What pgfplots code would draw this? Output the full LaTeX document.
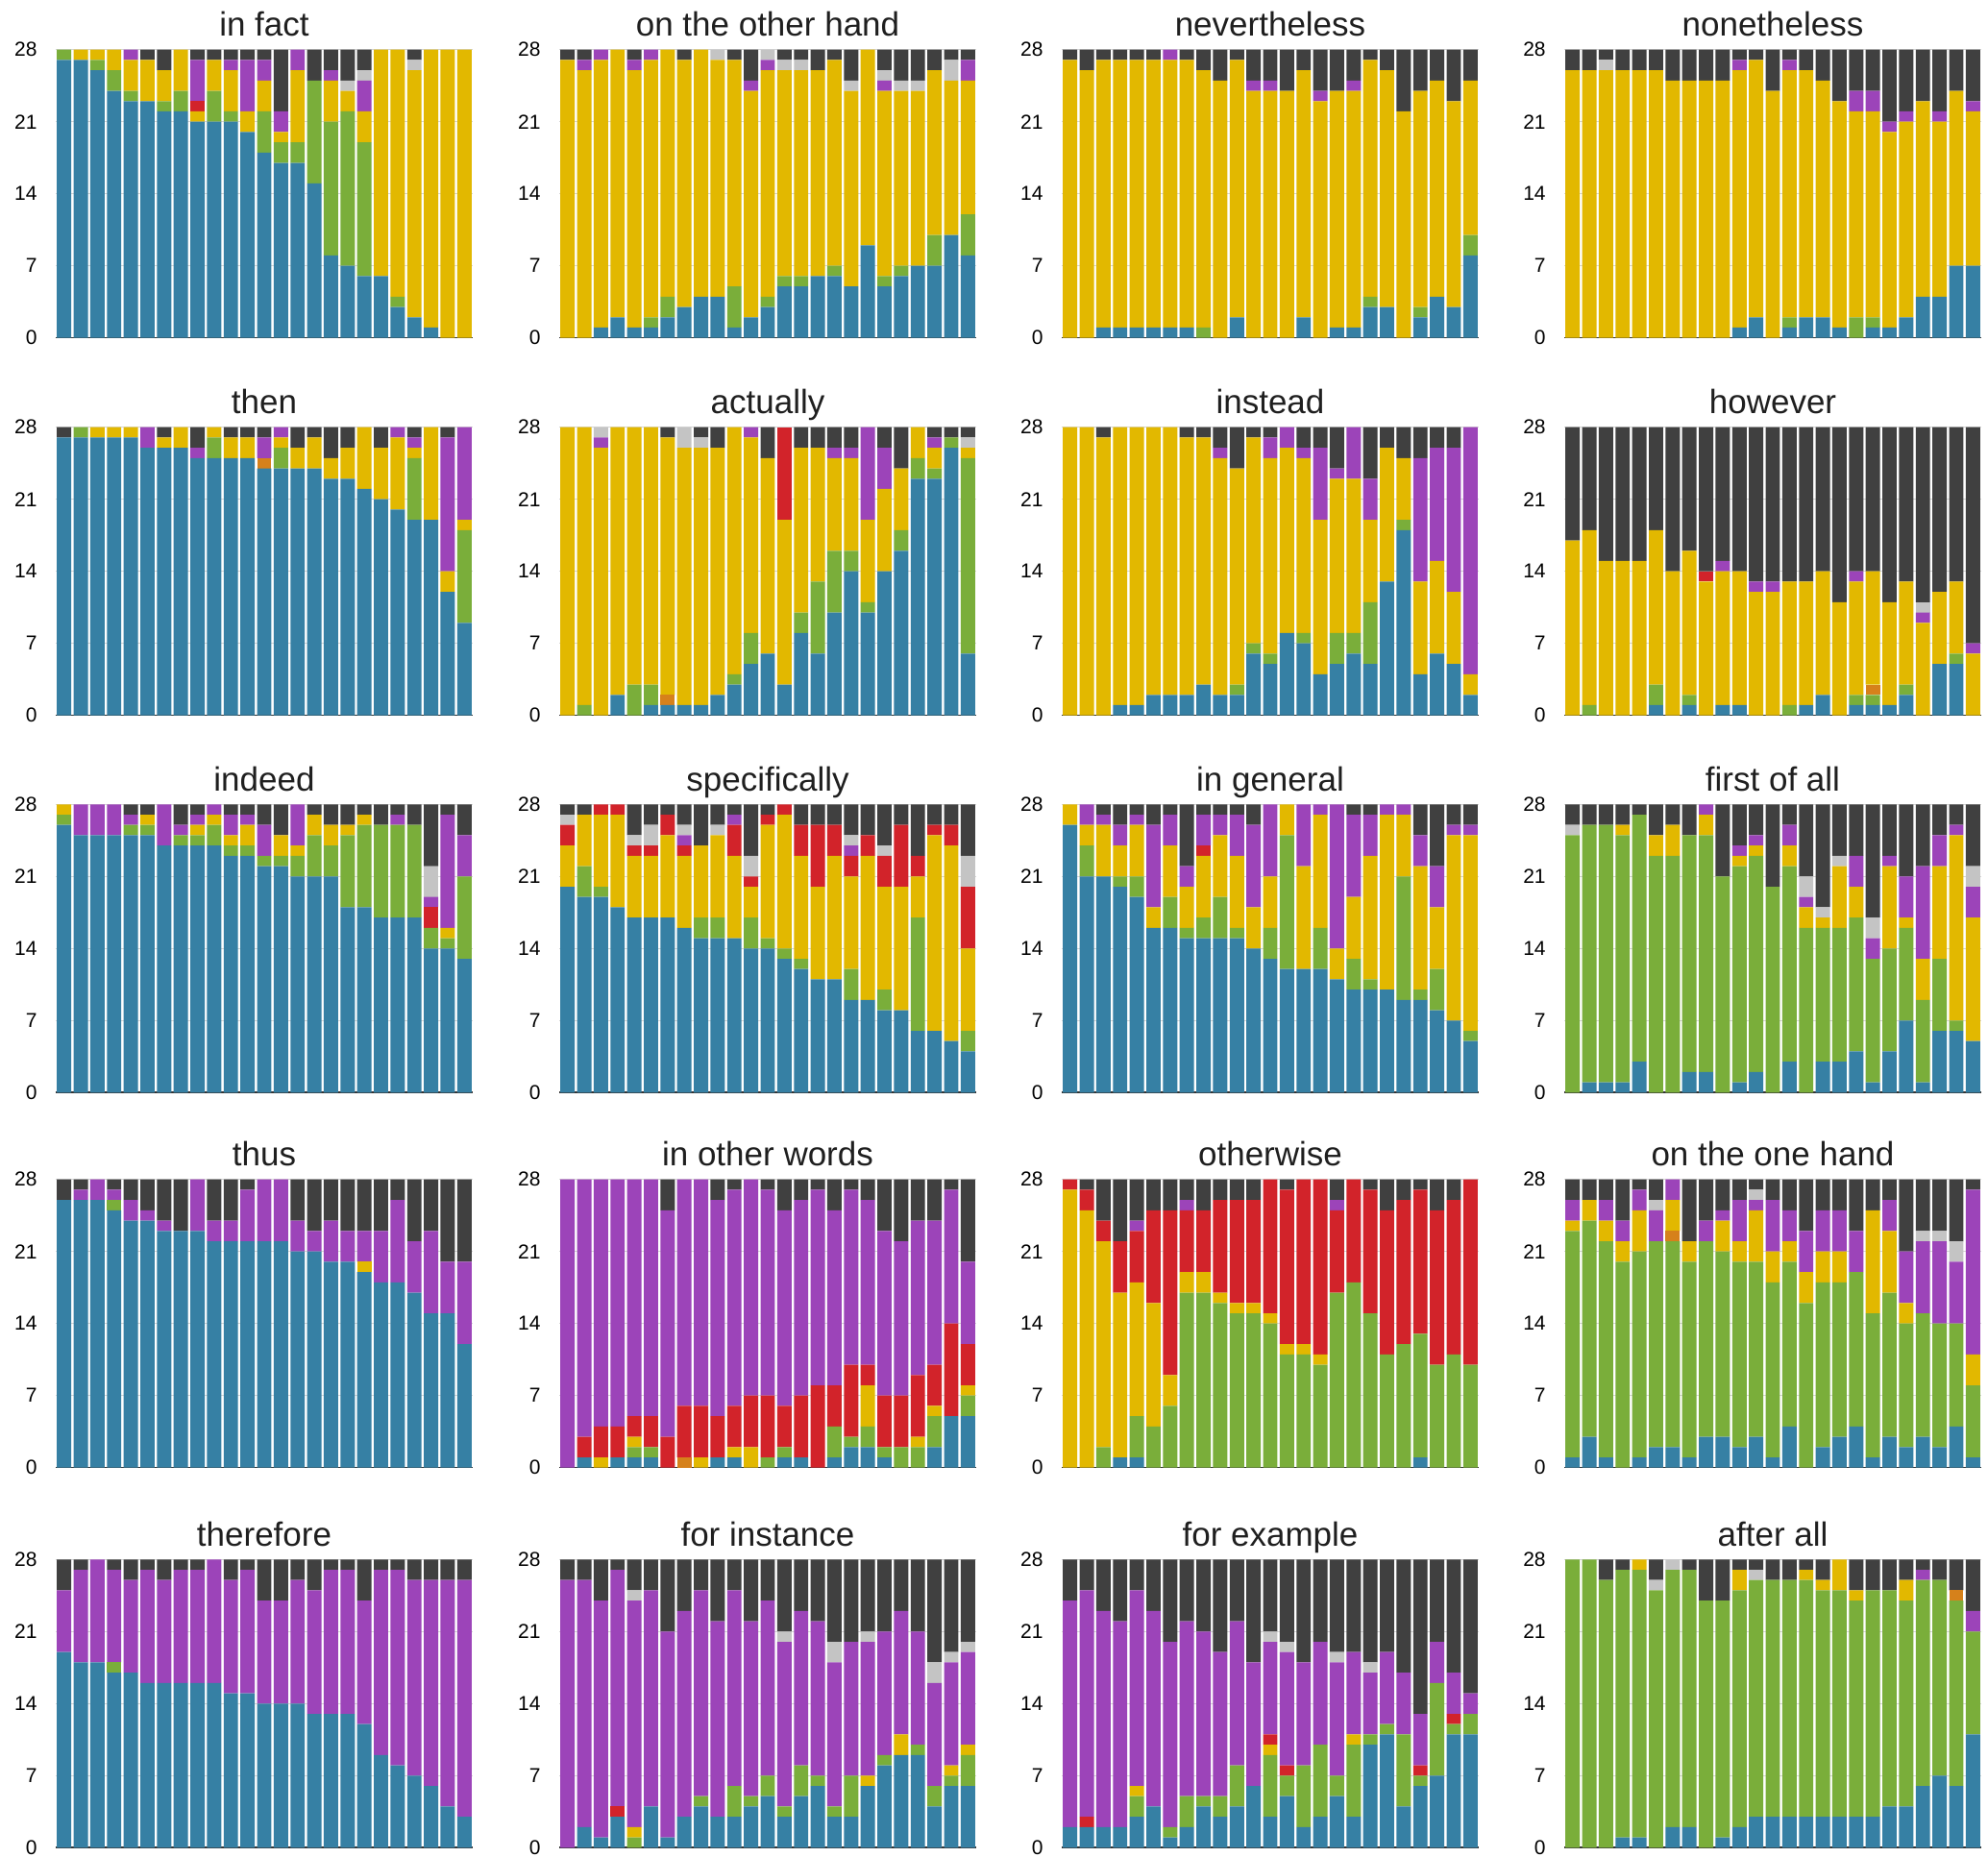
\documentclass[border=0pt]{standalone}
\usepackage{fontspec}
\setmainfont{Liberation Sans}
\usepackage{pgfplots}
\usepackage{pgfplotstable}
\pgfplotsset{compat=1.18}
\definecolor{cB}{HTML}{3680A4}
\definecolor{cG}{HTML}{7AAE3A}
\definecolor{cO}{HTML}{D6811B}
\definecolor{cY}{HTML}{E2B800}
\definecolor{cR}{HTML}{D2232A}
\definecolor{cP}{HTML}{9C44B9}
\definecolor{cL}{HTML}{C4C4C4}
\definecolor{cD}{HTML}{404040}

% columns: blue green orange yellow red purple lightgray darkgray
\pgfplotstableread{
B G O Y R P L D
27 1 0 0 0 0 0 0
27 0 0 1 0 0 0 0
26 1 0 1 0 0 0 0
24 2 0 2 0 0 0 0
23 1 0 3 0 1 0 0
23 0 0 4 0 0 0 1
22 1 0 3 0 0 0 2
22 2 0 4 0 0 0 0
21 0 0 1 1 4 0 1
21 3 0 3 0 0 0 1
21 1 0 4 0 1 0 1
20 0 0 2 0 5 0 1
18 4 0 3 0 2 0 1
17 2 0 1 0 2 0 6
17 2 0 7 0 2 0 0
15 10 0 0 0 0 0 3
8 13 0 4 0 1 0 2
7 15 0 2 0 0 1 3
6 13 0 3 0 3 1 2
6 0 0 22 0 0 0 0
3 1 0 24 0 0 0 0
2 0 0 24 0 0 1 1
1 0 0 27 0 0 0 0
0 0 0 28 0 0 0 0
0 0 0 28 0 0 0 0
}\tInFact
\pgfplotstableread{
B G O Y R P L D
0 0 0 27 0 0 0 1
0 0 0 26 0 1 0 1
1 0 0 26 0 1 0 0
2 0 0 26 0 0 0 0
1 0 0 25 0 1 0 1
1 1 0 25 0 1 0 0
2 2 0 24 0 0 0 0
3 0 0 24 0 0 0 1
4 0 0 24 0 0 0 0
4 0 0 23 0 0 1 0
1 4 0 22 0 0 0 1
2 0 0 22 0 1 0 3
3 1 0 22 0 1 1 0
5 1 0 20 0 0 1 1
5 1 0 20 0 0 1 1
6 0 0 20 0 0 0 2
6 1 0 20 0 0 0 1
5 0 0 19 0 0 1 3
9 0 0 19 0 0 0 0
5 1 0 18 0 1 1 2
6 1 0 17 0 0 1 3
7 0 0 17 0 0 1 3
7 3 0 16 0 0 0 2
10 0 0 15 0 0 2 1
8 4 0 13 0 2 0 1
}\tOtherHand
\pgfplotstableread{
B G O Y R P L D
0 0 0 27 0 0 0 1
0 0 0 26 0 0 0 2
1 0 0 26 0 0 0 1
1 0 0 26 0 0 0 1
1 0 0 26 0 0 0 1
1 0 0 26 0 0 0 1
1 0 0 26 0 1 0 0
1 0 0 26 0 0 0 1
0 1 0 25 0 0 0 2
0 0 0 25 0 0 0 3
2 0 0 25 0 0 0 1
0 0 0 24 0 1 0 3
0 0 0 24 0 1 0 3
0 0 0 24 0 0 0 4
2 0 0 24 0 0 0 2
0 0 0 23 0 1 0 4
1 0 0 23 0 0 0 4
1 0 0 23 0 1 0 3
3 1 0 23 0 0 0 1
3 0 0 23 0 0 0 2
0 0 0 22 0 0 0 6
2 1 0 21 0 0 0 4
4 0 0 21 0 0 0 3
3 0 0 20 0 0 0 5
8 2 0 15 0 0 0 3
}\tNevertheless
\pgfplotstableread{
B G O Y R P L D
0 0 0 26 0 0 0 2
0 0 0 26 0 0 0 2
0 0 0 26 0 0 1 1
0 0 0 26 0 0 0 2
0 0 0 26 0 0 0 2
0 0 0 26 0 0 0 2
0 0 0 25 0 0 0 3
0 0 0 25 0 0 0 3
0 0 0 25 0 0 0 3
0 0 0 25 0 0 0 3
1 0 0 25 0 1 0 1
2 0 0 25 0 0 0 1
0 0 0 24 0 0 0 4
1 1 0 24 0 1 0 1
2 0 0 24 0 0 0 2
2 0 0 23 0 0 0 3
1 0 0 22 0 0 0 5
0 2 0 20 0 2 0 4
1 1 0 20 0 2 0 4
1 0 0 19 0 1 0 7
2 0 0 19 0 1 0 6
4 0 0 19 0 0 0 5
4 0 0 17 0 1 0 6
7 0 0 17 0 0 0 4
7 0 0 15 0 1 0 5
}\tNonetheless
\pgfplotstableread{
B G O Y R P L D
27 0 0 0 0 0 0 1
27 1 0 0 0 0 0 0
27 0 0 1 0 0 0 0
27 0 0 1 0 0 0 0
27 0 0 1 0 0 0 0
26 0 0 0 0 2 0 0
26 0 0 1 0 0 0 1
26 0 0 2 0 0 0 0
25 0 0 0 0 1 0 2
25 2 0 1 0 0 0 0
25 0 0 2 0 0 0 1
25 0 0 2 0 0 0 1
24 0 1 0 0 2 0 1
24 2 0 1 0 1 0 0
24 0 0 2 0 0 0 2
24 0 0 3 0 0 0 1
23 0 0 2 0 0 0 3
23 0 0 3 0 0 0 2
22 0 0 6 0 0 0 0
21 0 0 5 0 0 0 2
20 0 0 7 0 1 0 0
19 6 0 1 0 1 0 1
19 0 0 9 0 0 0 0
12 0 0 2 0 13 0 1
9 9 0 1 0 9 0 0
}\tThen
\pgfplotstableread{
B G O Y R P L D
0 0 0 28 0 0 0 0
0 1 0 27 0 0 0 0
0 0 0 26 0 1 1 0
2 0 0 26 0 0 0 0
0 3 0 25 0 0 0 0
1 2 0 25 0 0 0 0
1 0 1 25 0 0 0 1
1 0 0 25 0 0 2 0
1 0 0 25 0 0 1 1
2 0 0 24 0 0 0 2
3 1 0 24 0 0 0 0
5 3 0 19 0 1 0 0
6 0 0 19 0 0 0 3
3 0 0 16 9 0 0 0
8 2 0 16 0 0 0 2
6 7 0 13 0 0 0 2
10 6 0 9 0 1 0 2
14 2 0 9 0 1 0 2
10 1 0 8 0 9 0 0
14 0 0 8 0 4 0 2
16 2 0 6 0 0 0 4
23 2 0 3 0 0 0 0
23 1 0 2 0 1 0 1
26 1 0 0 0 0 0 1
6 19 0 1 0 0 1 1
}\tActually
\pgfplotstableread{
B G O Y R P L D
0 0 0 28 0 0 0 0
0 0 0 28 0 0 0 0
0 0 0 27 0 0 0 1
1 0 0 27 0 0 0 0
1 0 0 27 0 0 0 0
2 0 0 26 0 0 0 0
2 0 0 26 0 0 0 0
2 0 0 25 0 0 0 1
3 0 0 24 0 0 0 1
2 0 0 23 0 1 0 2
2 1 0 21 0 0 0 4
6 1 0 20 0 0 0 1
5 1 0 19 0 2 0 1
8 0 0 18 0 2 0 0
7 1 0 17 0 1 0 2
4 0 0 15 0 7 0 2
5 3 0 15 0 1 0 4
6 2 0 15 0 5 0 0
5 6 0 8 0 4 0 5
13 0 0 13 0 0 0 2
18 1 0 6 0 0 0 3
4 0 0 9 0 12 0 3
6 0 0 9 0 11 0 2
5 0 0 7 0 14 0 2
2 0 0 2 0 24 0 0
}\tInstead
\pgfplotstableread{
B G O Y R P L D
0 0 0 17 0 0 0 11
0 1 0 17 0 0 0 10
0 0 0 15 0 0 0 13
0 0 0 15 0 0 0 13
0 0 0 15 0 0 0 13
1 2 0 15 0 0 0 10
0 0 0 14 0 0 0 14
1 1 0 14 0 0 0 12
0 0 0 13 1 0 0 14
1 0 0 13 0 1 0 13
1 0 0 13 0 0 0 14
0 0 0 12 0 1 0 15
0 0 0 12 0 1 0 15
0 1 0 12 0 0 0 15
1 0 0 12 0 0 0 15
2 0 0 12 0 0 0 14
0 0 0 11 0 0 0 17
1 1 0 11 0 1 0 14
1 1 1 11 0 0 0 14
1 0 0 10 0 0 0 17
2 1 0 10 0 0 0 15
0 0 0 9 0 1 1 17
5 0 0 7 0 0 0 16
5 1 0 7 0 0 0 15
0 0 0 6 0 1 0 21
}\tHowever
\pgfplotstableread{
B G O Y R P L D
26 1 0 1 0 0 0 0
25 0 0 0 0 3 0 0
25 0 0 0 0 3 0 0
25 0 0 0 0 3 0 0
25 1 0 0 0 1 0 1
25 1 0 1 0 0 0 1
24 0 0 0 0 4 0 0
24 1 0 0 0 1 0 2
24 1 0 1 0 1 0 1
24 2 0 1 0 1 0 0
23 1 0 1 0 2 0 1
23 1 0 2 0 1 0 1
22 1 0 0 0 3 0 2
22 1 0 2 0 0 0 3
21 2 0 1 0 4 0 0
21 4 0 2 0 0 0 1
21 3 0 2 0 0 0 2
18 7 0 1 0 0 0 2
18 8 0 1 0 0 0 1
17 9 0 0 0 0 0 2
17 9 0 0 0 1 0 1
17 9 0 0 0 0 0 2
14 2 0 0 2 1 3 6
14 1 0 1 0 11 0 1
13 8 0 0 0 4 0 3
}\tIndeed
\pgfplotstableread{
B G O Y R P L D
20 0 0 4 2 0 1 1
19 3 0 5 0 0 0 1
19 1 0 7 1 0 0 0
18 0 0 9 1 0 0 0
17 0 0 6 1 0 1 3
17 0 0 6 1 0 2 2
17 0 0 8 2 0 0 1
16 0 0 7 1 1 1 2
15 2 0 7 0 0 0 4
15 2 0 8 0 0 1 2
15 0 0 8 3 1 0 1
14 3 0 3 1 0 2 5
14 1 0 11 1 0 0 1
13 1 0 13 1 0 0 0
12 1 0 10 3 0 0 2
11 0 0 9 6 0 0 2
11 0 0 12 3 0 0 2
9 3 0 9 2 1 1 3
9 0 0 14 2 0 0 3
8 2 0 10 3 0 1 4
8 0 0 12 6 0 0 2
6 11 0 4 2 0 0 5
6 0 0 19 1 0 0 2
5 0 0 19 2 0 0 2
4 2 0 8 6 0 3 5
}\tSpecifically
\pgfplotstableread{
B G O Y R P L D
26 0 0 2 0 0 0 0
21 3 0 2 0 2 0 0
21 0 0 5 0 1 0 1
20 1 0 3 0 2 0 2
19 2 0 5 0 1 0 1
16 0 0 2 0 8 0 2
16 3 0 5 0 3 0 1
15 1 0 4 0 2 0 6
15 2 0 6 1 3 0 1
15 4 0 6 0 2 0 1
15 1 0 7 0 4 0 1
14 0 0 4 0 8 0 2
13 3 0 5 0 7 0 0
12 13 0 3 0 0 0 0
12 0 0 10 0 6 0 0
12 4 0 11 0 1 0 0
11 0 0 3 0 14 0 0
10 3 0 6 0 8 0 1
10 1 0 12 0 4 0 1
10 0 0 17 0 1 0 0
9 12 0 6 0 1 0 0
9 1 0 12 0 3 0 3
8 4 0 6 0 4 0 6
7 0 0 18 0 1 0 2
5 1 0 19 0 1 0 2
}\tInGeneral
\pgfplotstableread{
B G O Y R P L D
0 25 0 0 0 0 1 2
1 25 0 0 0 0 0 2
1 25 0 0 0 0 0 2
1 24 0 1 0 0 0 2
3 24 0 0 0 0 0 1
0 23 0 2 0 0 0 3
0 23 0 3 0 0 0 2
2 23 0 0 0 0 0 3
2 23 0 2 0 1 0 0
0 21 0 0 0 0 0 7
1 21 0 1 0 1 0 4
2 21 0 1 0 1 0 3
0 20 0 0 0 0 0 8
3 19 0 2 0 2 0 2
0 16 0 2 0 1 2 7
3 13 0 1 0 0 1 10
3 13 0 6 0 0 1 5
4 13 0 3 0 3 0 5
1 12 0 0 0 2 2 11
4 10 0 8 0 1 0 5
7 9 0 1 0 4 0 7
1 8 0 4 0 9 0 6
6 7 0 9 0 3 0 3
6 1 0 18 0 1 0 2
5 0 0 12 0 3 2 6
}\tFirstOfAll
\pgfplotstableread{
B G O Y R P L D
26 0 0 0 0 0 0 2
26 0 0 0 0 1 0 1
26 0 0 0 0 2 0 0
25 1 0 0 0 1 0 1
24 0 0 0 0 2 0 2
24 0 0 0 0 1 0 3
23 0 0 0 0 1 0 4
23 0 0 0 0 0 0 5
23 0 0 0 0 5 0 0
22 0 0 0 0 2 0 4
22 0 0 0 0 2 0 4
22 0 0 0 0 5 0 1
22 0 0 0 0 6 0 0
22 0 0 0 0 6 0 0
21 0 0 0 0 3 0 4
21 0 0 0 0 2 0 5
20 0 0 0 0 4 0 4
20 0 0 0 0 3 0 5
19 0 0 1 0 3 0 5
18 0 0 0 0 5 0 5
18 0 0 0 0 8 0 2
17 0 0 0 0 5 0 6
15 0 0 0 0 8 0 5
15 0 0 0 0 5 0 8
12 0 0 0 0 8 0 8
}\tThus
\pgfplotstableread{
B G O Y R P L D
0 0 0 0 0 28 0 0
1 0 0 0 2 25 0 0
0 0 0 1 3 24 0 0
1 0 0 0 3 24 0 0
1 1 0 1 2 23 0 0
1 1 0 0 3 23 0 0
0 0 0 0 3 22 0 3
0 0 1 0 5 22 0 0
0 0 0 1 5 22 0 0
1 0 0 0 4 21 0 2
1 0 0 1 4 21 0 1
0 0 0 2 5 21 0 0
0 1 0 0 6 20 0 1
1 1 0 0 4 19 0 3
1 0 0 0 6 19 0 2
0 0 0 0 8 19 0 1
1 3 0 0 4 17 0 3
2 1 0 0 7 17 0 1
2 2 0 4 2 16 0 2
1 1 0 0 5 16 0 5
0 2 0 0 5 15 0 6
0 2 0 1 6 15 0 4
2 3 0 1 4 14 0 4
5 0 0 0 9 13 0 1
5 2 0 1 4 8 0 8
}\tInOtherWords
\pgfplotstableread{
B G O Y R P L D
0 0 0 27 1 0 0 0
0 0 0 25 2 0 0 1
0 2 0 20 2 0 0 4
1 0 0 16 5 0 0 6
1 4 0 13 5 1 0 4
0 4 0 12 9 0 0 3
0 6 0 3 16 0 0 3
0 17 0 2 6 1 0 2
0 17 0 2 6 0 0 3
0 16 0 1 9 0 0 2
0 15 0 1 10 0 0 2
0 15 0 1 10 0 0 2
0 14 0 1 13 0 0 0
0 11 0 1 15 0 0 1
0 11 0 1 16 0 0 0
0 10 0 1 17 0 0 0
0 17 0 0 8 1 0 2
0 18 0 0 10 0 0 0
0 15 0 0 12 0 0 1
0 11 0 0 14 0 0 3
0 12 0 0 14 0 0 2
1 12 0 0 14 0 0 1
0 10 0 0 15 0 0 3
0 11 0 0 15 0 0 2
0 10 0 0 18 0 0 0
}\tOtherwise
\pgfplotstableread{
B G O Y R P L D
1 22 0 1 0 2 0 2
3 21 0 2 0 0 0 2
1 21 0 2 0 2 0 2
0 20 0 2 0 2 0 4
1 20 0 4 0 2 0 1
2 20 0 0 0 3 1 2
2 20 1 3 0 2 0 0
1 19 0 2 0 0 0 6
3 19 0 0 0 2 0 4
3 18 0 3 0 1 0 3
2 18 0 2 0 4 0 2
3 17 0 5 0 1 1 1
1 17 0 3 0 5 0 2
4 16 0 2 0 3 0 3
0 16 0 3 0 4 0 5
2 16 0 3 0 4 0 3
3 15 0 3 0 4 0 3
4 15 0 0 0 4 0 5
1 14 0 10 0 0 0 3
3 14 0 6 0 3 0 2
2 12 0 2 0 5 0 7
3 12 0 0 0 7 1 5
2 12 0 0 0 8 1 5
4 10 0 0 0 6 2 6
1 7 0 3 0 16 0 1
}\tOneHand
\pgfplotstableread{
B G O Y R P L D
19 0 0 0 0 6 0 3
18 0 0 0 0 9 0 1
18 0 0 0 0 10 0 0
17 1 0 0 0 9 0 1
17 0 0 0 0 9 0 2
16 0 0 0 0 11 0 1
16 0 0 0 0 10 0 2
16 0 0 0 0 11 0 1
16 0 0 0 0 11 0 1
16 0 0 0 0 12 0 0
15 0 0 0 0 11 0 2
15 0 0 0 0 12 0 1
14 0 0 0 0 10 0 4
14 0 0 0 0 10 0 4
14 0 0 0 0 12 0 2
13 0 0 0 0 12 0 3
13 0 0 0 0 14 0 1
13 0 0 0 0 14 0 1
12 0 0 0 0 12 0 4
9 0 0 0 0 18 0 1
8 0 0 0 0 19 0 1
7 0 0 0 0 19 0 2
6 0 0 0 0 20 0 2
4 0 0 0 0 22 0 2
3 0 0 0 0 23 0 2
}\tTherefore
\pgfplotstableread{
B G O Y R P L D
0 0 0 0 0 26 0 2
2 0 0 0 0 24 0 2
1 0 0 0 0 23 0 4
3 0 0 0 1 23 0 1
0 1 0 1 0 22 1 3
4 0 0 0 0 21 0 3
1 0 0 0 0 20 0 7
3 0 0 0 0 20 0 5
4 1 0 0 0 20 0 3
3 0 0 0 0 19 0 6
3 3 0 0 0 19 0 3
4 1 0 0 0 17 0 6
5 2 0 0 0 17 0 4
3 1 0 0 0 16 1 7
5 3 0 0 0 15 0 5
6 1 0 0 0 15 0 6
3 1 0 0 0 14 2 8
3 4 0 0 0 13 0 8
6 0 0 1 0 13 1 7
8 1 0 0 0 12 0 7
9 0 0 2 0 12 0 5
9 1 0 0 0 11 0 7
4 2 0 0 0 10 2 10
6 1 0 1 0 10 1 9
6 3 0 1 0 9 1 8
}\tForInstance
\pgfplotstableread{
B G O Y R P L D
2 0 0 0 0 22 0 4
2 0 0 0 1 22 0 3
2 0 0 0 0 21 0 5
2 0 0 0 0 20 0 6
3 2 0 1 0 19 0 3
4 0 0 0 0 19 0 5
1 1 0 0 0 18 0 8
2 3 0 0 0 17 0 6
4 1 0 0 0 16 0 7
3 2 0 0 0 14 0 9
4 4 0 0 0 14 0 6
6 0 0 0 0 12 0 10
3 6 0 1 1 9 1 7
5 2 0 0 1 11 1 8
2 6 0 0 0 10 0 10
3 7 0 0 0 10 0 8
5 2 0 0 0 11 1 9
3 7 0 1 0 8 0 9
10 1 0 0 0 6 1 10
11 1 0 0 0 7 0 9
4 7 0 0 0 6 0 11
6 1 0 0 1 5 0 15
7 9 0 0 0 4 0 8
11 1 0 0 1 4 0 11
11 2 0 0 0 2 0 13
}\tForExample
\pgfplotstableread{
B G O Y R P L D
0 28 0 0 0 0 0 0
0 28 0 0 0 0 0 0
0 26 0 0 0 0 0 2
1 26 0 0 0 0 0 1
1 26 0 1 0 0 0 0
0 25 0 0 0 0 1 2
2 25 0 0 0 0 1 0
2 25 0 0 0 0 0 1
0 24 0 0 0 0 0 4
1 23 0 0 0 0 0 4
2 23 0 2 0 0 0 1
3 23 0 0 0 0 1 1
3 23 0 0 0 0 0 2
3 23 0 0 0 0 0 2
3 23 0 1 0 0 0 1
3 22 0 1 0 0 0 2
3 22 0 3 0 0 0 0
3 21 0 1 0 0 0 3
3 22 0 0 0 0 0 3
4 21 0 0 0 0 0 3
4 20 0 2 0 0 0 2
6 20 0 0 0 1 0 1
7 19 0 0 0 0 0 2
6 18 1 0 0 0 0 3
11 10 0 0 0 2 0 5
}\tAfterAll

\pgfplotsset{
  panel/.style={
    scale only axis, width=217pt, height=150pt,
    anchor=south west,
    xmin=0.5, xmax=25.5, ymin=0, ymax=28,
    ybar stacked, bar width=0.86,
    ytick={0,7,14,21,28}, xtick=\empty,
    ymajorgrids, grid style={draw=black!16, line width=0.6pt},
    axis line style={draw=none},
    major tick length=0pt,
    /pgf/number format/assume math mode=true,
    tick label style={font=\fontsize{10.5}{12}\selectfont},
    yticklabel style={inner sep=0pt, anchor=east, xshift=-9.5pt},
    title style={font=\fontsize{17.5}{20}\selectfont, text=black!88, at={(0.5,1)}, anchor=base, yshift=1pt},
  }
}
\newcommand\panel[4]{%
\begin{axis}[panel, at={(#1pt,#2pt)}, title={#3}]
\addplot[fill=cB, draw=none] table[x expr=\coordindex+1, y=B] {#4};
\addplot[fill=cG, draw=none] table[x expr=\coordindex+1, y=G] {#4};
\addplot[fill=cO, draw=none] table[x expr=\coordindex+1, y=O] {#4};
\addplot[fill=cY, draw=none] table[x expr=\coordindex+1, y=Y] {#4};
\addplot[fill=cR, draw=none] table[x expr=\coordindex+1, y=R] {#4};
\addplot[fill=cP, draw=none] table[x expr=\coordindex+1, y=P] {#4};
\addplot[fill=cL, draw=none] table[x expr=\coordindex+1, y=L] {#4};
\addplot[fill=cD, draw=none] table[x expr=\coordindex+1, y=D] {#4};
\draw[black!80, line width=1pt] (axis cs:0.5,0) -- (axis cs:25.5,0);
\end{axis}}

\begin{document}
\begin{tikzpicture}
\useasboundingbox (0,0) rectangle (1034.5pt,-966.5pt);
\panel{29}{-175.85}{in fact}{\tInFact}
\panel{291}{-175.85}{on the other hand}{\tOtherHand}
\panel{552.5}{-175.85}{nevertheless}{\tNevertheless}
\panel{814}{-175.85}{nonetheless}{\tNonetheless}
\panel{29}{-372.35}{then}{\tThen}
\panel{291}{-372.35}{actually}{\tActually}
\panel{552.5}{-372.35}{instead}{\tInstead}
\panel{814}{-372.35}{however}{\tHowever}
\panel{29}{-568.65}{indeed}{\tIndeed}
\panel{291}{-568.65}{specifically}{\tSpecifically}
\panel{552.5}{-568.65}{in general}{\tInGeneral}
\panel{814}{-568.65}{first of all}{\tFirstOfAll}
\panel{29}{-763.85}{thus}{\tThus}
\panel{291}{-763.85}{in other words}{\tInOtherWords}
\panel{552.5}{-763.85}{otherwise}{\tOtherwise}
\panel{814}{-763.85}{on the one hand}{\tOneHand}
\panel{29}{-961.65}{therefore}{\tTherefore}
\panel{291}{-961.65}{for instance}{\tForInstance}
\panel{552.5}{-961.65}{for example}{\tForExample}
\panel{814}{-961.65}{after all}{\tAfterAll}
\end{tikzpicture}
\end{document}
